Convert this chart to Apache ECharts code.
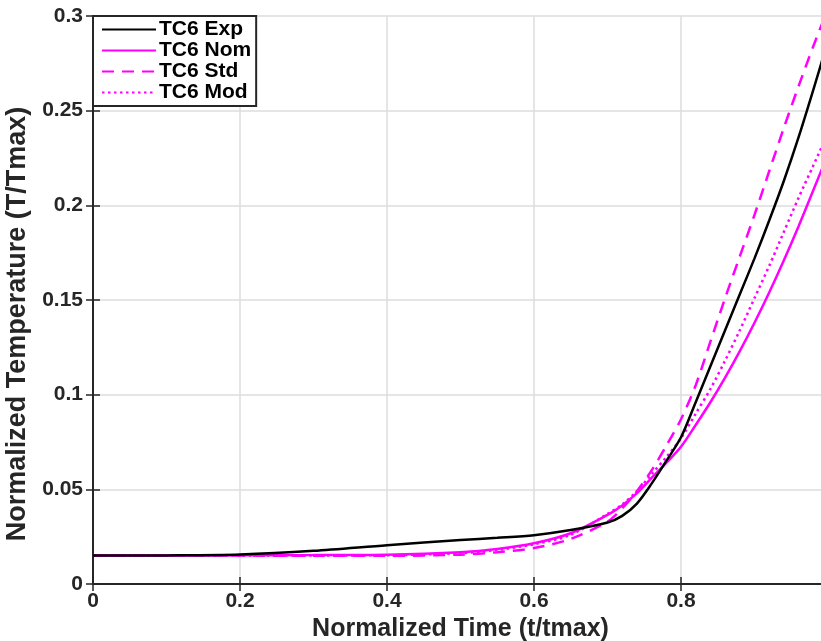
<!DOCTYPE html>
<html>
<head>
<meta charset="utf-8">
<script src="https://cdn.jsdelivr.net/npm/echarts@6/dist/echarts.min.js"></script>
<style>
  html, body { margin: 0; padding: 0; background: #fff; }
  #chart { width: 821px; height: 641px; }
</style>
</head>
<body>
<div id="chart"></div>
<script>
// normalized time samples
const timeVals = [0, 0.1, 0.2, 0.3, 0.4, 0.5, 0.55, 0.6, 0.65, 0.7, 0.72, 0.74, 0.76, 0.78, 0.8,
  0.82, 0.84, 0.86, 0.88, 0.9, 0.92, 0.94, 0.96, 0.98, 1.0]

const tc6Exp = [0.0150, 0.0151, 0.0156, 0.0175, 0.0205, 0.0232, 0.0244, 0.0258, 0.0285, 0.0325, 0.0360, 0.0425, 0.0530, 0.0650, 0.0775,
  0.096, 0.115, 0.134, 0.153, 0.172, 0.192, 0.213, 0.236, 0.261, 0.287]
const tc6Nom = [0.0150, 0.0150, 0.0152, 0.0153, 0.0155, 0.0168, 0.0185, 0.0215, 0.0268, 0.0365, 0.0415, 0.0480, 0.0560, 0.0640, 0.0725,
  0.084, 0.096, 0.109, 0.123, 0.138, 0.154, 0.171, 0.189, 0.208, 0.227]
const tc6Std = [0.0150, 0.0150, 0.0150, 0.0149, 0.0149, 0.0155, 0.0168, 0.0190, 0.0238, 0.0330, 0.0400, 0.0490, 0.0600, 0.0730, 0.0870,
  0.105, 0.128, 0.151, 0.173, 0.195, 0.218, 0.241, 0.263, 0.284, 0.304]
const tc6Mod = [0.0150, 0.0150, 0.0151, 0.0151, 0.0152, 0.0163, 0.0180, 0.0210, 0.0260, 0.0370, 0.0420, 0.0490, 0.0580, 0.0670, 0.0770,
  0.090, 0.103, 0.118, 0.134, 0.151, 0.168, 0.186, 0.204, 0.221, 0.238]

const seriesNames = ['TC6 Exp', 'TC6 Nom', 'TC6 Std', 'TC6 Mod']

function pairs(ys) {
  return timeVals.map((t, i) => [t, ys[i]])
}

const font = 'Liberation Sans'
const ink = '#262626'
const magenta = '#ff00ff'

const hiddenAxis = {
  axisLine: { show: true, lineStyle: { color: ink, width: 2 } },
  axisTick: { show: true, inside: true, length: 7, lineStyle: { color: ink, width: 1.5 } },
  axisLabel: { show: false },
  splitLine: { show: false }
}

const option = {
  backgroundColor: '#fff',
  animation: false,
  grid: { left: 93, top: 16, width: 735, height: 568, containLabel: false, outerBoundsMode: 'none' },
  legend: {
    left: 93, top: 16,
    orient: 'vertical',
    backgroundColor: '#fff',
    borderColor: ink,
    borderWidth: 2,
    padding: [3, 5, 3, 8],
    itemGap: 0,
    itemWidth: 54,
    itemHeight: 20,
    selectedMode: false,
    itemStyle: { opacity: 0 },
    textStyle: { fontFamily: font, fontWeight: 'bold', fontSize: 21, color: '#000', lineHeight: 20, padding: [0, 0, 0, -2] },
    data: seriesNames
  },
  xAxis: [
    {
      type: 'value', min: 0, max: 1, interval: 0.2, position: 'bottom',
      name: 'Normalized Time (t/tmax)', nameLocation: 'middle', nameGap: 30,
      nameTextStyle: { fontFamily: font, fontWeight: 'bold', fontSize: 25, color: ink },
      axisLine: { show: true, onZero: false, lineStyle: { color: ink, width: 2 } },
      axisTick: { show: true, inside: true, length: 7, lineStyle: { color: ink, width: 1.5 } },
      axisLabel: {
        fontFamily: font, fontWeight: 'bold', fontSize: 21, color: ink, margin: 7,
        formatter: v => (v >= 1 ? '' : String(v))
      },
      splitLine: { show: true, lineStyle: { color: '#dcdcdc', width: 1.5 } }
    },
    Object.assign({ type: 'value', min: 0, max: 1, interval: 0.2, position: 'top' }, hiddenAxis)
  ],
  yAxis: [
    {
      type: 'value', min: 0, max: 0.3, interval: 0.05, position: 'left',
      name: 'Normalized Temperature (T/Tmax)', nameLocation: 'middle', nameGap: 56,
      nameTextStyle: { fontFamily: font, fontWeight: 'bold', fontSize: 27, color: ink, padding: [0, 48, 0, 0] },
      axisLine: { show: true, onZero: false, lineStyle: { color: ink, width: 2 } },
      axisTick: { show: true, inside: true, length: 7, lineStyle: { color: ink, width: 1.5 } },
      axisLabel: { fontFamily: font, fontWeight: 'bold', fontSize: 21, color: ink, margin: 10 },
      splitLine: { show: true, lineStyle: { color: '#dcdcdc', width: 1.5 } }
    },
    Object.assign({ type: 'value', min: 0, max: 0.3, interval: 0.05, position: 'right' }, hiddenAxis)
  ],
  series: [
    {
      name: seriesNames[0], type: 'line', data: pairs(tc6Exp), showSymbol: false, symbol: 'none',
      smooth: 0.3, z: 5,
      lineStyle: { color: '#000', width: 2.5 }, itemStyle: { color: '#000' }
    },
    {
      name: seriesNames[1], type: 'line', data: pairs(tc6Nom), showSymbol: false, symbol: 'none',
      smooth: 0.3,
      lineStyle: { color: magenta, width: 2.5 }, itemStyle: { color: magenta }
    },
    {
      name: seriesNames[2], type: 'line', data: pairs(tc6Std), showSymbol: false, symbol: 'none',
      smooth: 0.3,
      lineStyle: { color: magenta, width: 2.5, type: [12, 8] }, itemStyle: { color: magenta }
    },
    {
      name: seriesNames[3], type: 'line', data: pairs(tc6Mod), showSymbol: false, symbol: 'none',
      smooth: 0.3,
      lineStyle: { color: magenta, width: 2.5, type: [2.5, 3.5] }, itemStyle: { color: magenta }
    }
  ]
}

const chart = echarts.init(document.getElementById('chart'), null, { renderer: 'canvas' })
chart.setOption(option)
window.onresize = function () {
  chart.resize()
}
</script>
</body>
</html>
